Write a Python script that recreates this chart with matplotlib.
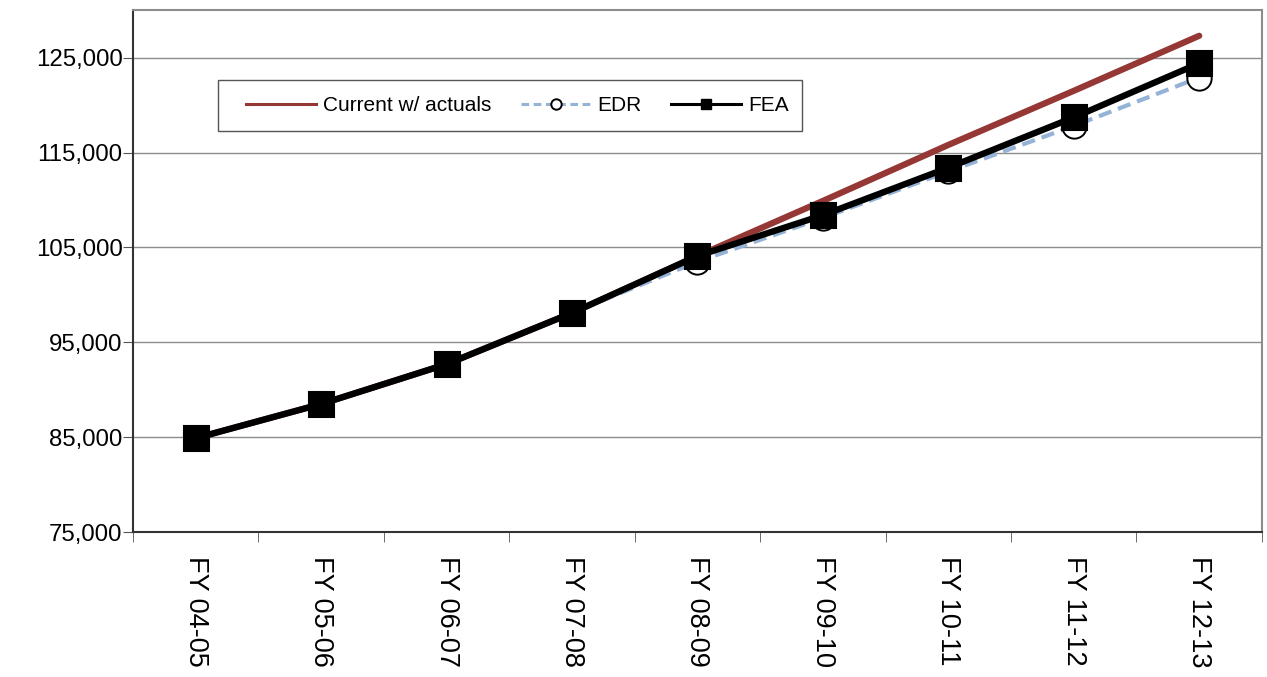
import matplotlib
matplotlib.use('Agg')
import matplotlib.pyplot as plt
from matplotlib.lines import Line2D
from matplotlib.patches import Rectangle
from matplotlib.ticker import FuncFormatter, FixedLocator
import numpy as np

plt.rcParams['font.family'] = ['Liberation Sans', 'DejaVu Sans']

years = ['FY 04-05', 'FY 05-06', 'FY 06-07', 'FY 07-08', 'FY 08-09',
         'FY 09-10', 'FY 10-11', 'FY 11-12', 'FY 12-13']
current = [84900, 88500, 92700, 98100, 104100, 109900, 115800, 121500, 127300]
edr = [84900, 88500, 92700, 98100, 103500, 108100, 113000, 117800, 122900]
fea = [84900, 88500, 92700, 98100, 104100, 108400, 113400, 118700, 124400]

red = '#953735'
blue = '#95B3D7'

fig = plt.figure(figsize=(12.67, 6.77), dpi=100)
ax = fig.add_axes([0.105, 0.214, 0.891, 0.771])

x = np.arange(len(years))
ax.plot(x, current, color=red, lw=4.5, solid_capstyle='round', zorder=3)
ax.plot(x, edr, color=blue, lw=3, ls=(0, (3.2, 1.7)), marker='o', ms=17.5,
        mfc='white', mec='black', mew=1.4, zorder=4)
ax.plot(x, fea, color='black', lw=4.6, marker='s', ms=18, mfc='black',
        mec='black', mew=1.5, zorder=5)

ax.set_xlim(-0.5, len(years) - 0.5)
ax.set_ylim(75000, 130000)
ax.set_yticks(np.arange(75000, 130000, 10000))
ax.yaxis.set_major_formatter(FuncFormatter(lambda v, p: f'{int(v):,}'))
ax.grid(axis='y', color='#8c8c8c', lw=1)
ax.set_axisbelow(True)

ax.set_xticks(x)
ax.set_xticklabels(years, rotation=270, fontsize=19.5)
ax.tick_params(axis='x', which='major', length=0, pad=17)
ax.xaxis.set_minor_locator(FixedLocator(np.arange(-0.5, len(years), 1.0)))
ax.tick_params(axis='x', which='minor', length=7, color='#555555')
ax.tick_params(axis='y', length=7, labelsize=17.3, color='#555555', pad=0.5)

for s in ['top', 'right']:
    ax.spines[s].set_color('#8c8c8c')
    ax.spines[s].set_linewidth(1.5)
for s in ['left', 'bottom']:
    ax.spines[s].set_color('#333333')
    ax.spines[s].set_linewidth(1.5)

# legend frame drawn separately so the inner padding matches
box = Rectangle((0.0753, 0.7683), 0.5173, 0.0977, transform=ax.transAxes,
                fill=True, facecolor='white', edgecolor='#555555', lw=1,
                zorder=6)
ax.add_patch(box)

handles = [
    Line2D([], [], color=red, lw=2.2),
    Line2D([], [], color=blue, lw=2.2, ls=(0, (2.5, 1.5)), marker='o', ms=7.5,
           mfc='white', mec='black', mew=1.4),
    Line2D([], [], color='black', lw=2.2, marker='s', ms=7.5, mfc='black'),
]
leg = ax.legend(handles, ['Current w/ actuals', 'EDR', 'FEA'], ncol=3,
                loc='center left', bbox_to_anchor=(0.1001, 0.817),
                borderaxespad=0, frameon=False, fontsize=15,
                handlelength=3.36, columnspacing=1.4, borderpad=0,
                handletextpad=0.34)
leg.set_zorder(7)

fig.savefig('out.png', dpi=100)
